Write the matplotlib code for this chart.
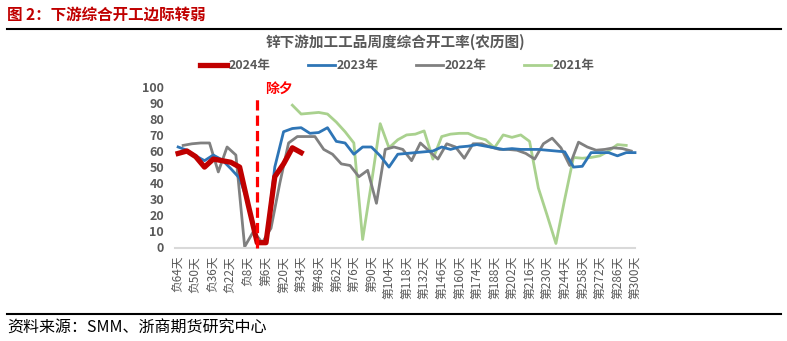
import numpy as np
import matplotlib
matplotlib.use('Agg')
import matplotlib.pyplot as plt
from matplotlib.lines import Line2D

plt.rcParams['font.family'] = ['Noto Sans CJK SC', 'DejaVu Sans']

# weekly operating rate, lunar-calendar days relative to Spring Festival
rate_2024 = [58.5, 60, 56.5, 50, 55, 54, 53, 50, 26, 3, 3, 44, 52, 62, 59]
rate_2023 = [62.5, 60.5, 57, 54, 57.5, 54.5, 49, 43, 27, 3, 3, 50, 72, 74, 74.5,
             71, 71.5, 74.5, 66, 65, 58, 62.5, 62.5, 57, 50, 58, 58.5, 59, 59.5,
             60, 62.5, 61, 62.5, 63, 64, 63, 62, 61, 61.5, 61, 61, 61, 60.5, 60,
             59.5, 50, 50.5, 59, 59, 59, 57, 59, 59]
rate_2022 = [63.5, 64.5, 65, 65, 47, 62.5, 57.5, 0.5, 10, 3, 12, 40, 65, 69, 69,
             69, 61, 58, 52, 51, 44, 48, 27.5, 61, 62.5, 61, 54, 65, 60, 55,
             64.5, 62.5, 55.5, 64.5, 64.5, 62.5, 61, 61, 60.5, 58.5, 55, 64.5,
             68, 62, 51, 65.5, 62.5, 60.5, 61, 62, 61.5, 60]
rate_2021 = [88.5, 83, 83.5, 84, 83, 78, 72, 65, 5, 40, 77, 62, 67, 70, 70.5,
             72.5, 55, 69, 70.5, 71, 71, 68.5, 67, 62, 70, 68.5, 70, 66, 37, 20,
             2.5, 30, 56, 55.5, 56, 57, 60, 64, 63.5]

# first day of each series (weekly steps)
start_2024, start_2023, start_2022, start_2021 = -64, -64, -60, 27
chuxi_day = -1

tick_days = list(range(-64, 301, 14))
tick_labels = [f'负{-d}天' if d < 0 else f'第{d}天' for d in tick_days]


def week_days(start, vals):
    return np.arange(start, start + 7 * len(vals), 7)


fig = plt.figure(figsize=(7.87, 3.41), dpi=100)
ax = fig.add_axes([175 / 787, 1 - 247.5 / 341, 460 / 787, 160.8 / 341])

grey = '#595959'
ax.plot(week_days(start_2021, rate_2021), rate_2021, color='#A9D18E', lw=2.0,
        label='2021年', clip_on=False)
ax.plot(week_days(start_2022, rate_2022), rate_2022, color='#808080', lw=2.0,
        label='2022年', clip_on=False)
ax.plot(week_days(start_2023, rate_2023), rate_2023, color='#2E75B6', lw=2.0,
        label='2023年', clip_on=False)
ax.plot(week_days(start_2024, rate_2024), rate_2024, color='#C00000', lw=3.8,
        label='2024年', clip_on=False, zorder=4)

ax.plot([chuxi_day, chuxi_day], [0, 95], color='#FF0000', lw=2.3,
        ls=(0, (3.2, 1.6)), zorder=5, clip_on=False)
ax.text(chuxi_day + 6, 98, '除夕', color='#FF0000', fontsize=10,
        fontweight='bold', va='center', ha='left')

ax.set_xlim(-66.5, 300)
ax.set_ylim(0, 100)
ax.set_yticks(range(0, 101, 10))
ax.set_xticks(tick_days)
ax.set_xticklabels(tick_labels, rotation=90, fontsize=8.5, color=grey)
for lbl in ax.get_yticklabels():
    lbl.set_fontweight('bold')
    lbl.set_color(grey)
    lbl.set_fontsize(9)
ax.tick_params(length=0)
ax.tick_params(axis='y', pad=8)
ax.tick_params(axis='x', pad=6)
for s in ['top', 'right', 'left']:
    ax.spines[s].set_visible(False)
ax.spines['bottom'].set_color('#D9D9D9')
ax.spines['bottom'].set_linewidth(1.5)

handles, labels = ax.get_legend_handles_labels()
order = [3, 2, 1, 0]
fig.legend([handles[i] for i in order], [labels[i] for i in order],
           loc='center', bbox_to_anchor=(397 / 787, 1 - 66 / 341), ncol=4,
           frameon=False, handlelength=2.2, handletextpad=0.1,
           columnspacing=3.0, labelcolor=grey,
           prop={'size': 9, 'weight': 'bold'})

fig.text(395 / 787, 1 - 42 / 341, '锌下游加工工品周度综合开工率(农历图)',
         ha='center', va='center', fontsize=10.5, fontweight='bold', color=grey)

fig.text(7 / 787, 1 - 14.5 / 341, '图 2：下游综合开工边际转弱', ha='left',
         va='center', fontsize=11.2, fontweight='bold', color='#C00000')
fig.add_artist(Line2D([7 / 787, 781 / 787], [1 - 29 / 341] * 2,
                      color='black', lw=1.5))
fig.add_artist(Line2D([7 / 787, 781 / 787], [1 - 314 / 341] * 2,
                      color='black', lw=1.5))
fig.text(7 / 787, 1 - 328 / 341, '资料来源：SMM、浙商期货研究中心', ha='left',
         va='center', fontsize=11.5, color='black')

fig.savefig('out.png', dpi=100)
